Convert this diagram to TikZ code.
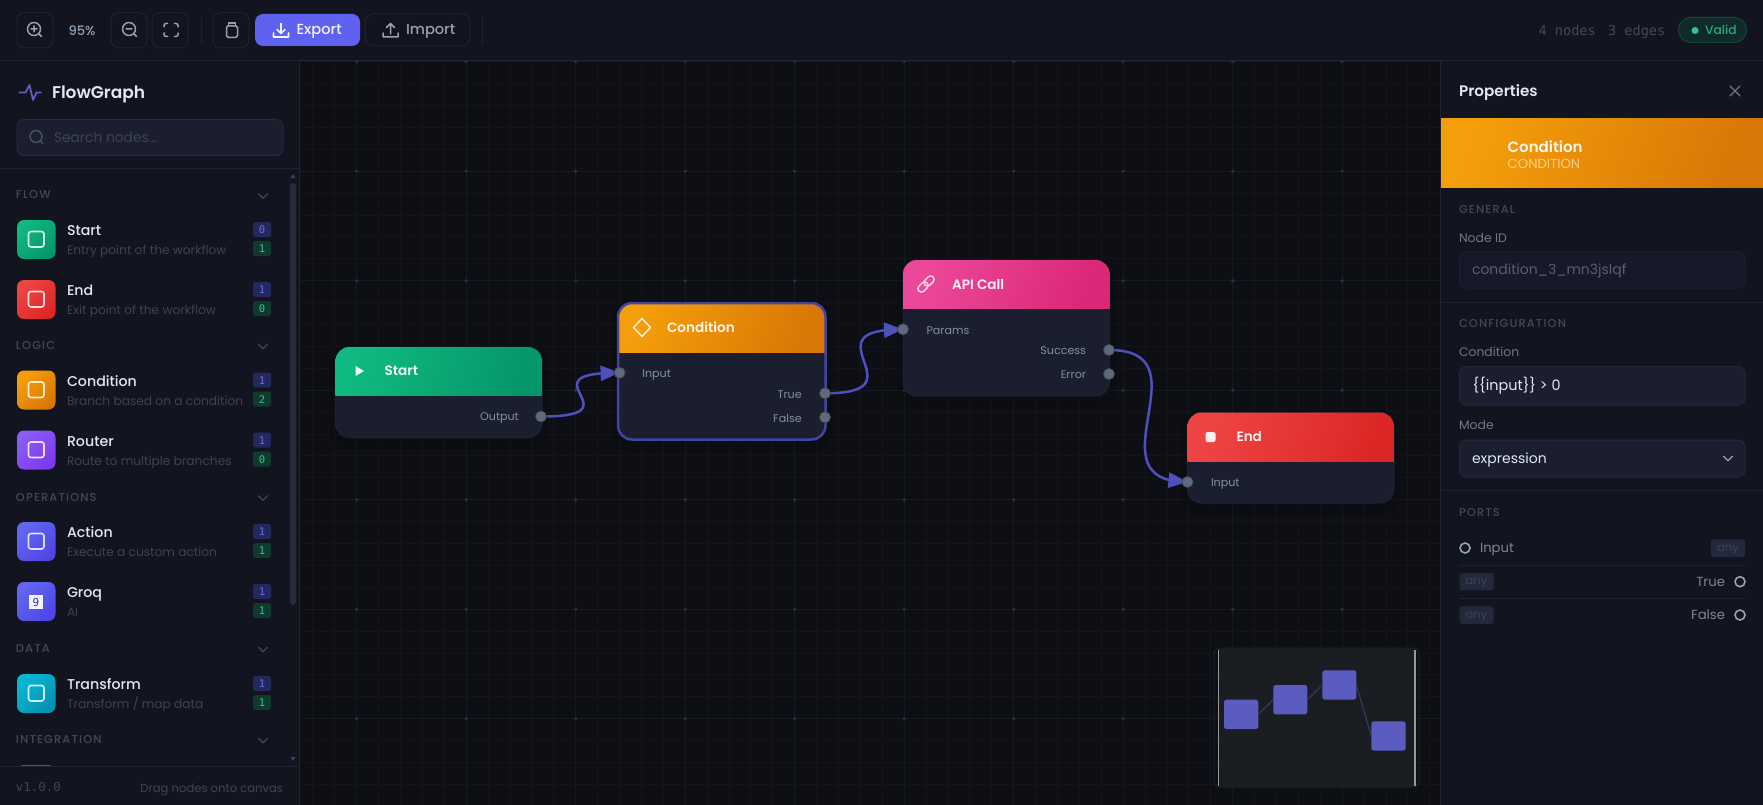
\documentclass[tikz,border=0pt]{standalone}
\usepackage{fontspec}
\setmainfont{Poppins}
\newfontfamily\mdf{Poppins Medium}
\newfontfamily\sbf{Poppins SemiBold}
\newfontfamily\secf[LetterSpace=10]{Poppins Medium}
\newfontfamily\monof{DejaVu Sans Mono}
\usetikzlibrary{arrows.meta,bending}
\pgfdeclarelayer{under}
\pgfsetlayers{under,main}
\definecolor{panelbg}{HTML}{12141F}
\definecolor{canvasbg}{HTML}{0D0F14}
\definecolor{linec}{HTML}{1F2230}
\definecolor{gridminor}{HTML}{13151B}
\definecolor{gridmajor}{HTML}{171920}
\definecolor{griddot}{HTML}{2E3038}
\definecolor{bodyc}{HTML}{1A1E2E}
\definecolor{fieldc}{HTML}{1A1E2E}
\definecolor{fieldb}{HTML}{242839}
\definecolor{txtlight}{HTML}{E2E8F0}
\definecolor{txtmid}{HTML}{94A3B8}
\definecolor{txtdim}{HTML}{3D4256}
\definecolor{txtsec}{HTML}{434858}
\definecolor{txtval}{HTML}{5A5F70}
\definecolor{iconc}{HTML}{9AA0AE}
\definecolor{searchic}{HTML}{4A4F62}
\definecolor{edgec}{HTML}{4E50BE}
\definecolor{portc}{HTML}{5F6B7C}
\definecolor{accent}{HTML}{5F62EE}
\definecolor{badgeinb}{HTML}{25285C}
\definecolor{badgeint}{HTML}{6A6EE8}
\definecolor{badgeoutb}{HTML}{10392F}
\definecolor{badgeoutt}{HTML}{34C48E}
\definecolor{validb}{HTML}{0F2A2A}
\definecolor{validl}{HTML}{14463C}
\definecolor{anyb}{HTML}{23283A}
\definecolor{anyt}{HTML}{3D4358}
\definecolor{scrollc}{HTML}{262B3E}
\definecolor{minifill}{HTML}{5A5CC0}
\definecolor{miniline}{HTML}{3B3A66}
\definecolor{apiA}{HTML}{EC4899}
\definecolor{apiB}{HTML}{DB2777}
\tikzset{
  x=1pt,y=-1pt,
  lbl/.style={inner sep=0pt,outer sep=0pt},
  toolbtn/.style={draw=linec,line width=1pt,rounded corners=8pt,fill=panelbg},
  flowport/.style={circle,fill=portc,draw=portc!70!black,line width=.8pt,minimum size=11pt,inner sep=0pt,outer sep=0pt},
  flowedge/.style={draw=edgec,line width=2.5pt,-{Triangle[length=19pt,width=15pt,flex]}},
  iconline/.style={draw=iconc,line width=1.5pt,line cap=round,line join=round},
  fieldbox/.style={draw=fieldb,line width=1pt,fill=fieldc,rounded corners=7pt},
  minirect/.style={fill=minifill,rounded corners=2.5pt,inner sep=0pt,outer sep=0pt,anchor=north west},
  miniedge/.style={draw=miniline,line width=1pt},
  anybadge/.style={fill=anyb,rounded corners=2.5pt,text=anyt,inner sep=0pt,minimum width=34pt,minimum height=17.5pt,text height=8pt,text depth=2pt,font=\fontsize{11.5}{11.5}\selectfont},
  ringport/.style={circle,draw=txtmid,line width=1.6pt,minimum size=10pt,inner sep=0pt},
}
% name x y anchor size color fontcmd text
\newcommand{\lbl}[8]{\node[lbl,anchor=#4,text=#6,font={#7\fontsize{#5}{#5}\selectfont}] (#1) at (#2,#3+2) {#8};}
% flow-node box: name x0 y0 w h headerh colorA colorB
\newcommand{\flowbox}[8]{%
  \fill[black,opacity=.12,rounded corners=18pt] (#2-6,#3-2) rectangle ++(#4+12,#5+14);
  \node[anchor=north west,fill=bodyc,draw=#1bord,line width=1pt,rounded corners=14pt,minimum width=#4pt,minimum height=#5pt,inner sep=0pt,outer sep=0pt] (#1) at (#2,#3) {};
  \begin{scope}
    \clip[rounded corners=14pt] (#2,#3) rectangle ++(#4,#5);
    \shade[top color=#7,bottom color=#8,shading angle=70] (#2,#3) rectangle ++(#4,#6);
  \end{scope}}
% palette item: name y0 colorA colorB title desc in out
\newcommand{\paletteitem}[8]{%
  \shade[rounded corners=7pt,top color=#3,bottom color=#4,shading angle=45] (17,#2) rectangle ++(38.5,39);
  \lbl{#1title}{67}{#2+11}{mid west}{14.2}{txtlight}{\mdf}{#5}
  \lbl{#1desc}{67}{#2+30}{mid west}{12.2}{txtdim}{}{#6}
  \fill[badgeinb,rounded corners=2.5pt] (253,#2+2) rectangle ++(18,15);
  \fill[badgeoutb,rounded corners=2.5pt] (253,#2+21) rectangle ++(18,15);
  \lbl{#1in}{262}{#2+8}{center}{10.5}{badgeint}{\monof}{#7}
  \lbl{#1out}{262}{#2+27}{center}{10.5}{badgeoutt}{\monof}{#8}}
\newcommand{\glyphsq}[1]{\draw[white!80!#1,line width=1.6pt,rounded corners=2.5pt] (28.5,{\gy+11.5}) rectangle ++(15.5,15.5);}
\newcommand{\chev}[2]{\draw[draw=#2,line width=1.2pt,line cap=round,line join=round] (#1-4.5,\cy-2.2) -- (#1,\cy+2.2) -- (#1+4.5,\cy-2.2);}
\begin{document}
\begin{tikzpicture}
\useasboundingbox (0,0) rectangle (1763,805);
\begin{pgfonlayer}{under}
\fill[canvasbg] (0,0) rectangle (1763,805);
\foreach \k in {-2,...,49}{
  \pgfmathsetmacro{\gx}{356.7+21.9*\k}
  \draw[gridminor,line width=1pt] (\gx,60) -- (\gx,805);}
\foreach \k in {0,...,34}{
  \pgfmathsetmacro{\gy}{61.7+21.9*\k}
  \draw[gridminor,line width=1pt] (300,\gy) -- (1441,\gy);}
\foreach \k in {0,...,9}{
  \pgfmathsetmacro{\gx}{356.7+109.5*\k}
  \draw[gridmajor,line width=1pt] (\gx,60) -- (\gx,805);}
\foreach \k in {0,...,6}{
  \pgfmathsetmacro{\gy}{61.7+109.5*\k}
  \draw[gridmajor,line width=1pt] (300,\gy) -- (1441,\gy);}
\foreach \i in {0,...,9}{\foreach \j in {0,...,6}{
  \pgfmathsetmacro{\gx}{356.7+109.5*\i}
  \pgfmathsetmacro{\gy}{61.7+109.5*\j}
  \fill[griddot] (\gx,\gy) circle (1.8);}}
\end{pgfonlayer}
% ---------- panels ----------
\fill[panelbg] (0,0) rectangle (1763,60);
\fill[panelbg] (0,60) rectangle (299,805);
\fill[panelbg] (1441,60) rectangle (1763,805);
\draw[linec,line width=1pt] (0,60.5) -- (1763,60.5);
\draw[linec,line width=1pt] (299.5,60) -- (299.5,805);
\draw[linec,line width=1pt] (1440.5,60) -- (1440.5,805);
% ---------- toolbar ----------
\draw[toolbtn] (17,12.5) rectangle (53,48);
\draw[iconline] (34,29) circle (6.5) (31,29) -- (37,29) (34,26) -- (34,32) (38.8,33.8) -- (41.5,36.5);
\lbl{zoompct}{82}{29}{center}{13}{txtmid}{\mdf}{95\%}
\draw[toolbtn] (111,12.5) rectangle (147,48);
\draw[iconline] (129,29) circle (6.5) (126,29) -- (132,29) (133.8,33.8) -- (136.5,36.5);
\draw[toolbtn] (152,12.5) rectangle (188,48);
\draw[iconline,rounded corners=2pt] (164,27) -- (164,23.5) -- (167.5,23.5) (174.5,23.5) -- (178,23.5) -- (178,27) (178,33) -- (178,36.5) -- (174.5,36.5) (167.5,36.5) -- (164,36.5) -- (164,33);
\draw[linec,line width=1pt] (201.5,17) -- (201.5,44);
\draw[toolbtn] (213,12.5) rectangle (249,48);
\draw[iconline,rounded corners=1.5pt] (226.5,26) rectangle (237.5,37.3);
\draw[iconline] (228.5,25.5) -- (228.5,23) -- (235.5,23) -- (235.5,25.5);
\fill[accent,rounded corners=8pt] (255,14) rectangle (360,46);
\draw[white!92!accent,line width=1.6pt,line cap=round,line join=round] (281,23.5) -- (281,33.5) (277,29.5) -- (281,33.5) -- (285,29.5) (273.5,33) -- (273.5,37) -- (288.5,37) -- (288.5,33);
\lbl{exportlbl}{296.5}{29.5}{mid west}{14.6}{white!92!accent}{\mdf}{Export}
\draw[toolbtn,rounded corners=8pt,fill=panelbg] (365,14) rectangle (470,46);
\draw[iconline] (390.5,34) -- (390.5,23.5) (386.5,27.5) -- (390.5,23.5) -- (394.5,27.5) (383,33) -- (383,37) -- (398,37) -- (398,33);
\lbl{importlbl}{406}{29.5}{mid west}{14.6}{iconc}{\mdf}{Import}
\draw[linec,line width=1pt] (482.5,16) -- (482.5,44);
\lbl{nodecount}{1538.5}{31}{mid west}{13.6}{txtsec}{\monof}{4 nodes}
\lbl{edgecount}{1608}{31}{mid west}{13.6}{txtsec}{\monof}{3 edges}
\draw[fill=validb,draw=validl,line width=1pt,rounded corners=12.5pt] (1678.5,17.5) rectangle (1746.5,42.5);
\fill[badgeoutt] (1695,30.5) circle (3.5);
\lbl{validlbl}{1705}{29.5}{mid west}{12.3}{badgeoutt!85!black}{\mdf}{Valid}
% ---------- sidebar ----------
\draw[edgec!90!white,line width=1.7pt,line join=round,line cap=round] (19.5,92.5) -- (25.5,92.5) -- (29.5,85) -- (33,100) -- (36.5,92.5) -- (41,92.5);
\lbl{brand}{52}{93.5}{mid west}{17}{txtlight}{\sbf}{FlowGraph}
\draw[fieldbox] (17,119.5) rectangle (283,155.5);
\draw[draw=searchic,line width=1.4pt,line cap=round] (36,136.5) circle (6) (40.5,141) -- (43,143.5);
\lbl{searchlbl}{54}{138}{mid west}{13.8}{txtdim}{}{Search nodes...}
\draw[linec,line width=1pt] (0,168.5) -- (299,168.5);
\fill[scrollc,rounded corners=3pt] (290,183) rectangle (296,605);
\fill[txtdim] (293,174) -- (295.5,178) -- (290.5,178) -- cycle;
\fill[txtdim] (293,761) -- (295.5,757) -- (290.5,757) -- cycle;
\lbl{secflow}{16}{193.5}{mid west}{11.4}{txtsec}{\secf}{FLOW}
\def\cy{196}\chev{263}{txtsec}
\lbl{seclogic}{16}{345}{mid west}{11.4}{txtsec}{\secf}{LOGIC}
\def\cy{346.5}\chev{263}{txtsec}
\lbl{secops}{16}{497}{mid west}{11.4}{txtsec}{\secf}{OPERATIONS}
\def\cy{498}\chev{263}{txtsec}
\lbl{secdata}{16}{648}{mid west}{11.4}{txtsec}{\secf}{DATA}
\def\cy{649.5}\chev{263}{txtsec}
\lbl{secint}{16}{739}{mid west}{11.4}{txtsec}{\secf}{INTEGRATION}
\def\cy{740.5}\chev{263}{txtsec}
\definecolor{iA}{HTML}{10B981}\definecolor{iB}{HTML}{059669}
\paletteitem{pstart}{220}{iA}{iB}{Start}{Entry point of the workflow}{0}{1}
\def\gy{220}\glyphsq{iA}
\definecolor{jA}{HTML}{EF4444}\definecolor{jB}{HTML}{DC2626}
\paletteitem{pend}{280}{jA}{jB}{End}{Exit point of the workflow}{1}{0}
\def\gy{280}\glyphsq{jA}
\definecolor{kA}{HTML}{F59E0B}\definecolor{kB}{HTML}{D97706}
\paletteitem{pcond}{370.5}{kA}{kB}{Condition}{Branch based on a condition}{1}{2}
\def\gy{370.5}\glyphsq{kA}
\definecolor{lA}{HTML}{8B5CF6}\definecolor{lB}{HTML}{7C3AED}
\paletteitem{prouter}{430.5}{lA}{lB}{Router}{Route to multiple branches}{1}{0}
\def\gy{430.5}\glyphsq{lA}
\definecolor{mA}{HTML}{6366F1}\definecolor{mB}{HTML}{4F46E5}
\paletteitem{paction}{522}{mA}{mB}{Action}{Execute a custom action}{1}{1}
\def\gy{522}\glyphsq{mA}
\paletteitem{pgroq}{582}{mA}{mB}{Groq}{AI}{1}{1}
\node[fill=white!92!mA,minimum size=14pt,inner sep=0pt,font={\monof\fontsize{11}{11}\selectfont},text=mB!70!black] (groqglyph) at (36,602) {9};
\definecolor{nA}{HTML}{06B6D4}\definecolor{nB}{HTML}{0891B2}
\paletteitem{ptrans}{674}{nA}{nB}{Transform}{Transform / map data}{1}{1}
\def\gy{674}\glyphsq{nA}
\fill[fill=apiA!60!panelbg] (21,765) rectangle (51,766);
\draw[linec,line width=1pt] (0,766.5) -- (299,766.5);
\lbl{version}{16}{787}{mid west}{12.4}{txtdim}{\monof}{v1.0.0}
\lbl{draghint}{283}{788}{mid east}{11.6}{txtdim}{}{Drag nodes onto canvas}
% ---------- canvas nodes ----------
\colorlet{startbord}{linec}
\colorlet{condbord}{linec}
\colorlet{apibord}{linec}
\colorlet{endbord}{linec}
\flowbox{start}{335.5}{347}{206.5}{90.5}{48.5}{iA}{iB}
\flowbox{cond}{618}{303}{207.5}{136.5}{49}{kA}{kB}
\draw[draw=edgec!85!black,line width=2.5pt,rounded corners=14pt] (cond.north west) rectangle (cond.south east);
\flowbox{api}{903}{260}{206.5}{136}{48.5}{apiA}{apiB}
\flowbox{end}{1187.5}{412.5}{206.5}{90.5}{48.5}{jA}{jB}
% header glyphs
\fill[white!92!iA] (355.5,366) -- (364,371) -- (355.5,376) -- cycle;
\draw[white!85!kA,line width=1.5pt,line join=round] (642,318.5) -- (650.5,327.5) -- (642,336.5) -- (633.5,327.5) -- cycle;
\begin{scope}[shift={(926,284)},rotate=45]
\draw[white!75!apiA,line width=1.5pt,rounded corners=3.4pt] (-10,-3.5) rectangle (1.5,3.5);
\draw[white!75!apiA,line width=1.5pt,rounded corners=3.4pt] (-1.5,-3.5) rectangle (10,3.5);
\end{scope}
\fill[white!90!jA,rounded corners=2pt] (1205.5,432) rectangle (1215.5,442);
\lbl{starttitle}{384.5}{371}{mid west}{13.6}{white!92!iA}{\sbf}{Start}
\lbl{condtitle}{667}{327.5}{mid west}{13.6}{white!92!kA}{\sbf}{Condition}
\lbl{apititle}{952}{284.5}{mid west}{13.6}{white!92!apiA}{\sbf}{API Call}
\lbl{endtitle}{1236.5}{437}{mid west}{13.6}{white!92!jA}{\sbf}{End}
\lbl{startoutl}{518.7}{415.5}{mid east}{11.1}{txtmid!85!bodyc}{}{Output}
\lbl{condinl}{642.3}{372.7}{mid west}{11.1}{txtmid!85!bodyc}{}{Input}
\lbl{condtruel}{801.7}{393.3}{mid east}{11.1}{txtmid!85!bodyc}{}{True}
\lbl{condfalsel}{801.7}{417.3}{mid east}{11.1}{txtmid!85!bodyc}{}{False}
\lbl{apiinl}{926.5}{329.3}{mid west}{11.1}{txtmid!85!bodyc}{}{Params}
\lbl{apisuccl}{1086}{350}{mid east}{11.1}{txtmid!85!bodyc}{}{Success}
\lbl{apierrl}{1086}{374}{mid east}{11.1}{txtmid!85!bodyc}{}{Error}
\lbl{endinl}{1211}{482}{mid west}{11.1}{txtmid!85!bodyc}{}{Input}
\node[flowport] (pstartout) at (541,416.5) {};
\node[flowport] (pcondin) at (619.6,372.7) {};
\node[flowport] (pcondtrue) at (825,393.3) {};
\node[flowport] (pcondfalse) at (825,417.3) {};
\node[flowport] (papiin) at (903,329.3) {};
\node[flowport] (papisucc) at (1109,350) {};
\node[flowport] (papierr) at (1109,374) {};
\node[flowport] (pendin) at (1187.5,482) {};
\begin{pgfonlayer}{under}
\draw[flowedge] (pstartout.center) .. controls +(100,0) and +(-100,0) .. (pcondin.center);
\draw[flowedge] (pcondtrue.center) .. controls +(100,0) and +(-100,0) .. (papiin.center);
\draw[flowedge] (papisucc.center) .. controls +(100,0) and +(-100,0) .. (pendin.center);
\end{pgfonlayer}
% ---------- minimap ----------
\definecolor{minibg}{HTML}{1A1D22}
\draw[linec,line width=1pt,rounded corners=6pt] (1214,648) rectangle (1419,787);
\fill[minibg] (1218,648) rectangle (1415,787);
\draw[white!55!minibg,line width=1.7pt] (1218.5,650) -- (1218.5,786);
\draw[white!55!minibg,line width=1.7pt] (1415,650) -- (1415,786);
\node[minirect,minimum width=34.3pt,minimum height=29.3pt] (mini1) at (1224,699.7) {};
\node[minirect,minimum width=34pt,minimum height=29.3pt] (mini2) at (1273.3,685) {};
\node[minirect,minimum width=34pt,minimum height=29.3pt] (mini3) at (1322.3,670.3) {};
\node[minirect,minimum width=34.4pt,minimum height=29.4pt] (mini4) at (1371.3,721.3) {};
\draw[miniedge] (mini1.east) -- (mini2.west);
\draw[miniedge] (mini2.east) -- (mini3.west);
\draw[miniedge] (mini3.east) -- (mini4.west);
% ---------- properties ----------
\lbl{proptitle}{1459}{91.5}{mid west}{15.2}{txtlight}{\sbf}{Properties}
\draw[iconc!70!panelbg,line width=1.3pt,line cap=round] (1730,86) -- (1740,96) (1740,86) -- (1730,96);
\shade[top color=kA,bottom color=kB,shading angle=70] (1441,119) rectangle (1763,188);
\lbl{prophead}{1507.7}{147.5}{mid west}{15}{white!92!kA}{\sbf}{Condition}
\lbl{prophsub}{1507.7}{163.7}{mid west}{13.2}{white!50!kA}{}{CONDITION}
\lbl{secgeneral}{1459}{208.3}{mid west}{11.4}{txtsec}{\secf}{GENERAL}
\lbl{labnodeid}{1459}{237.7}{mid west}{12.4}{txtmid!70!panelbg}{}{Node ID}
\draw[fieldbox,fill=fieldc!50!panelbg,draw=fieldb!60!panelbg] (1459.5,251.5) rectangle (1745,288);
\lbl{valnodeid}{1472}{270}{mid west}{14}{txtval}{}{condition\_3\_mn3jslqf}
\draw[linec,line width=1pt] (1441,302.5) -- (1763,302.5);
\lbl{secconfig}{1459}{323}{mid west}{11.4}{txtsec}{\secf}{CONFIGURATION}
\lbl{labcond}{1459}{352}{mid west}{12.4}{txtmid!70!panelbg}{}{Condition}
\draw[fieldbox] (1459.5,366.5) rectangle (1745,405);
\lbl{valcond}{1472.5}{386}{mid west}{14.4}{txtlight}{}{\{\{input\}\} > 0}
\lbl{labmode}{1459}{425}{mid west}{12.4}{txtmid!70!panelbg}{}{Mode}
\draw[fieldbox] (1459.5,440) rectangle (1745,477);
\lbl{valmode}{1472}{459}{mid west}{14}{txtlight}{}{expression}
\def\cy{458.5}\chev{1728}{iconc}
\draw[linec,line width=1pt] (1441,490.7) -- (1763,490.7);
\lbl{secports}{1459}{512}{mid west}{11.4}{txtsec}{\secf}{PORTS}
\node[ringport] (rowinring) at (1465,548) {};
\lbl{rowinl}{1480}{548}{mid west}{13.2}{txtmid!80!panelbg}{}{Input}
\node[anybadge] (rowinany) at (1728,548) {any};
\draw[linec,line width=1pt] (1459,565) -- (1745,565);
\node[anybadge] (rowtrueany) at (1476.5,581.7) {any};
\lbl{rowtruel}{1725}{581.5}{mid east}{13.2}{txtmid!80!panelbg}{}{True}
\node[ringport] (rowtruering) at (1740,581.7) {};
\draw[linec,line width=1pt] (1459,598) -- (1745,598);
\node[anybadge] (rowfalseany) at (1476.5,615) {any};
\lbl{rowfalsel}{1725}{615}{mid east}{13.2}{txtmid!80!panelbg}{}{False}
\node[ringport] (rowfalsering) at (1740,615) {};
\end{tikzpicture}
\end{document}
